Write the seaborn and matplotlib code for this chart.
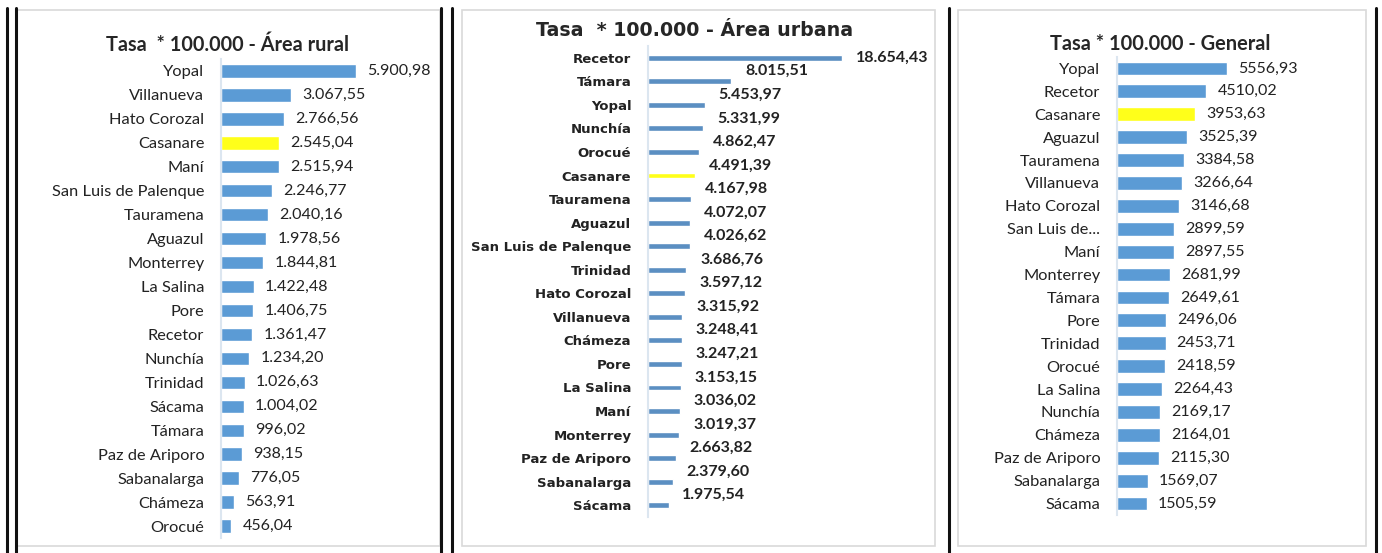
import matplotlib
matplotlib.use("Agg")
import seaborn as sns
import matplotlib.pyplot as plt
import pandas as pd
from matplotlib.lines import Line2D
from matplotlib.patches import Rectangle

# Área rural
rural_names = ["Yopal", "Villanueva", "Hato Corozal", "Casanare", "Maní",
               "San Luis de Palenque", "Tauramena", "Aguazul", "Monterrey",
               "La Salina", "Pore", "Recetor", "Nunchía", "Trinidad", "Sácama",
               "Támara", "Paz de Ariporo", "Sabanalarga", "Chámeza", "Orocué"]
rural_values = [5900.98, 3067.55, 2766.56, 2545.04, 2515.94, 2246.77, 2040.16,
                1978.56, 1844.81, 1422.48, 1406.75, 1361.47, 1234.20, 1026.63,
                1004.02, 996.02, 938.15, 776.05, 563.91, 456.04]

# Área urbana
urban_names = ["Recetor", "Támara", "Yopal", "Nunchía", "Orocué", "Casanare",
               "Tauramena", "Aguazul", "San Luis de Palenque", "Trinidad",
               "Hato Corozal", "Villanueva", "Chámeza", "Pore", "La Salina",
               "Maní", "Monterrey", "Paz de Ariporo", "Sabanalarga", "Sácama"]
urban_values = [18654.43, 8015.51, 5453.97, 5331.99, 4862.47, 4491.39, 4167.98,
                4072.07, 4026.62, 3686.76, 3597.12, 3315.92, 3248.41, 3247.21,
                3153.15, 3036.02, 3019.37, 2663.82, 2379.60, 1975.54]

# General
general_names = ["Yopal", "Recetor", "Casanare", "Aguazul", "Tauramena",
                 "Villanueva", "Hato Corozal", "San Luis de...", "Maní",
                 "Monterrey", "Támara", "Pore", "Trinidad", "Orocué",
                 "La Salina", "Nunchía", "Chámeza", "Paz de Ariporo",
                 "Sabanalarga", "Sácama"]
general_values = [5556.93, 4510.02, 3953.63, 3525.39, 3384.58, 3266.64, 3146.68,
                  2899.59, 2897.55, 2681.99, 2649.61, 2496.06, 2453.71, 2418.59,
                  2264.43, 2169.17, 2164.01, 2115.30, 1569.07, 1505.59]

BLUE = "#5B9BD5"
BLUE_URB = "#5B8FC2"
YELLOW = "#FFFF1A"
HIGHLIGHT = "Casanare"

W, H = 1382, 553


def fmt_dot(v):
    s = f"{v:,.2f}"
    return s.replace(",", "X").replace(".", ",").replace("X", ".")


def fmt_plain(v):
    return f"{v:.2f}".replace(".", ",")


def px_axes(fig, left, top, right, bottom):
    return fig.add_axes([left / W, 1 - bottom / H, (right - left) / W,
                         (bottom - top) / H])


def draw_panel(ax, names, values, color, bar_h, xmax, fmt, font, weight,
               lab_size, val_size, val_pad, val_font="Lato", val_weight="normal",
               shift=0.0):
    df = pd.DataFrame({"name": names, "value": values})
    pal = {n: (YELLOW if n == HIGHLIGHT else color) for n in names}
    sns.barplot(data=df, y="name", x="value", hue="name", palette=pal,
                orient="h", width=bar_h, legend=False, ax=ax,
                saturation=1, order=names)
    ax.set_xlim(0, xmax)
    ax.set_ylim(len(names) - 0.5, -0.5)
    ax.set_xlabel("")
    ax.set_ylabel("")
    ax.set_xticks([])
    for s in ["top", "right", "bottom"]:
        ax.spines[s].set_visible(False)
    ax.spines["left"].set_color("#DCE6F0")
    ax.spines["left"].set_linewidth(1.5)
    ax.tick_params(axis="y", length=0, pad=12)
    for lab in ax.get_yticklabels():
        lab.set_fontfamily(font)
        lab.set_fontweight(weight)
        lab.set_fontsize(lab_size)
        lab.set_color("#222222")
    for i, v in enumerate(values):
        dy = -shift if (shift and i > 0) else 0
        ax.annotate(fmt(v), xy=(v, i + dy), xytext=(val_pad, 0),
                    textcoords="offset points", va="center", ha="left",
                    fontsize=val_size, family=val_font, fontweight=val_weight,
                    color="#222222")
    ax.set_facecolor("none")


sns.set_theme(style="white")
fig = plt.figure(figsize=(W / 100, H / 100), dpi=100)
fig.patch.set_facecolor("white")

# panel frames
for x0, x1 in [(17, 440), (462, 935), (958, 1366)]:
    fig.add_artist(Rectangle((x0 / W, 1 - 546 / H), (x1 - x0) / W, 536 / H,
                             transform=fig.transFigure, fill=False,
                             edgecolor="#D9D9D9", linewidth=1.2))
for x in [7, 16, 441, 452, 949, 1376]:
    fig.add_artist(Line2D([x / W, x / W], [0, 1 - 8 / H],
                          transform=fig.transFigure, color="#111111",
                          linewidth=2.2))

ax1 = px_axes(fig, 221, 59, 421, 538)
draw_panel(ax1, rural_names, rural_values, BLUE, 0.56, 8734, fmt_dot,
           "Lato", "normal", 11.8, 11.5, 8)
fig.text(228 / W, 1 - 45 / H, "Tasa  * 100.000 - Área rural", ha="center",
         va="center", fontsize=14.3, fontweight="bold", family="Lato")

ax2 = px_axes(fig, 648, 46, 898, 517)
draw_panel(ax2, urban_names, urban_values, BLUE_URB, 0.25, 24040, fmt_dot,
           "DejaVu Sans", "bold", 9.5, 11.5, 10, val_weight="bold",
           shift=0.43)
fig.text(695 / W, 1 - 31 / H, "Tasa  * 100.000 - Área urbana", ha="center",
         va="center", fontsize=13.7, fontweight="bold", family="DejaVu Sans")

ax3 = px_axes(fig, 1117, 57, 1317, 515)
draw_panel(ax3, general_names, general_values, BLUE, 0.6, 10100, fmt_plain,
           "Lato", "normal", 11.8, 11.5, 8)
fig.text(1160 / W, 1 - 44 / H, "Tasa * 100.000 - General", ha="center",
         va="center", fontsize=14.4, fontweight="bold", family="Lato")

fig.savefig("out.png", dpi=100)
